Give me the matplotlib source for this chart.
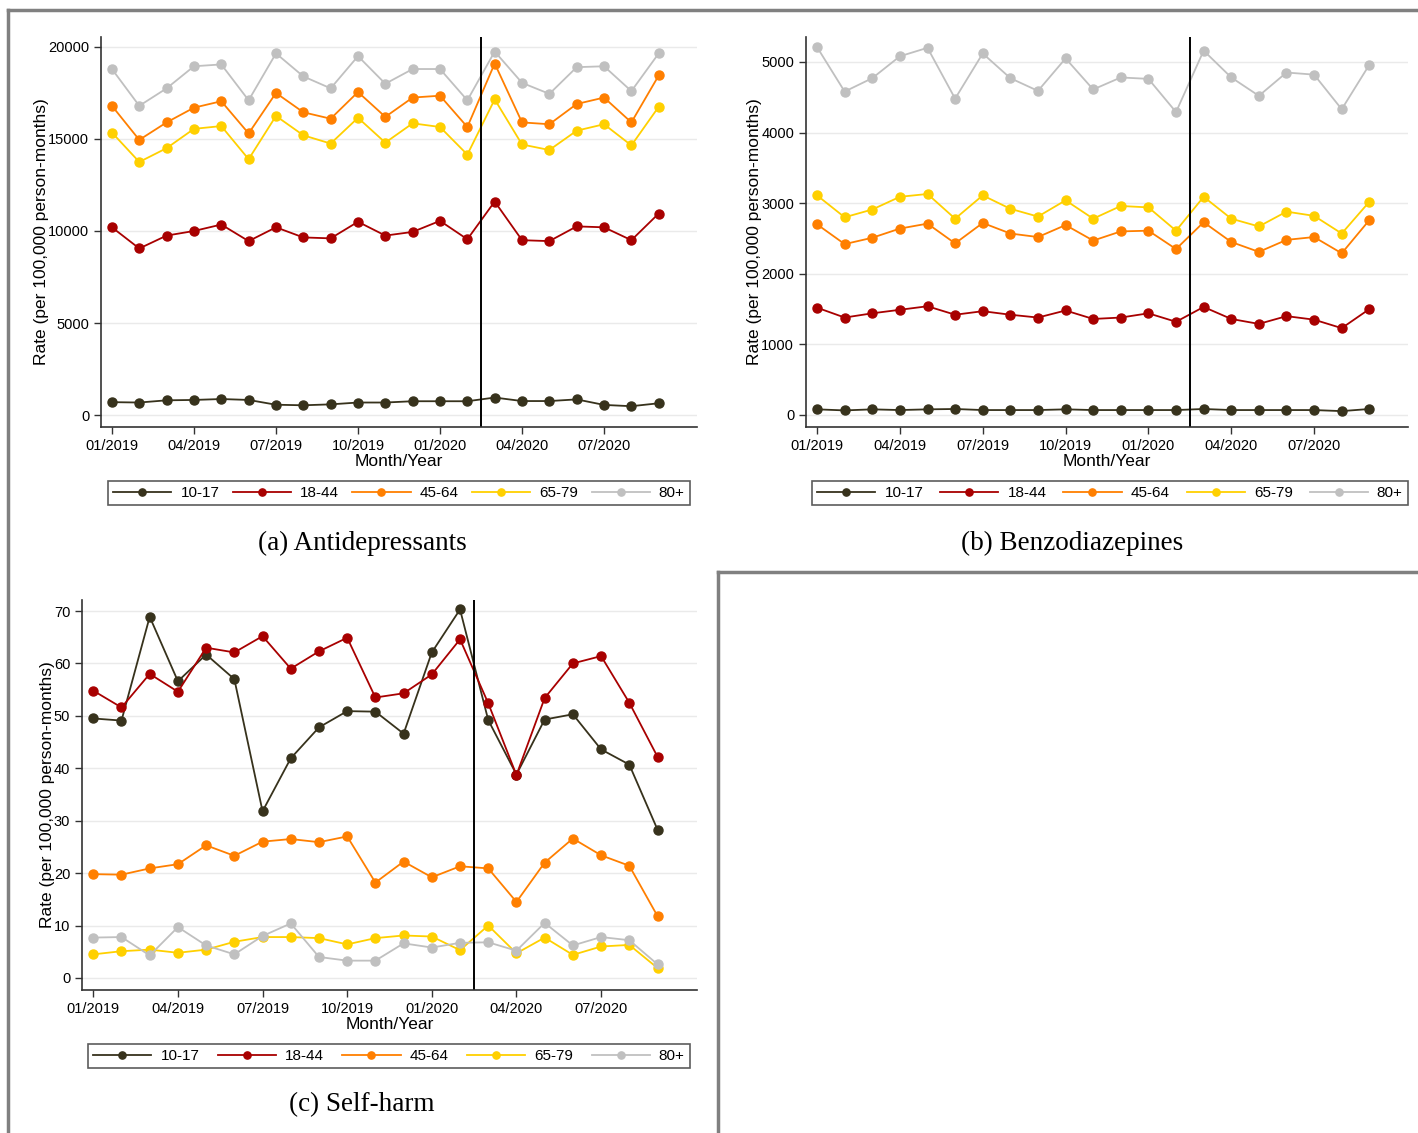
import matplotlib
matplotlib.use('Agg')
import matplotlib.pyplot as plt
import numpy as np

plt.rcParams['font.family'] = ['Liberation Sans', 'DejaVu Sans']

months = ['01/2019', '02/2019', '03/2019', '04/2019', '05/2019', '06/2019', '07/2019',
          '08/2019', '09/2019', '10/2019', '11/2019', '12/2019', '01/2020', '02/2020',
          '03/2020', '04/2020', '05/2020', '06/2020', '07/2020', '08/2020', '09/2020']
groups = ['10-17', '18-44', '45-64', '65-79', '80+']
colors = ['#37321c', '#a80000', '#ff7f00', '#ffd000', '#c0c0c0']

# Antidepressants
ad_1017 = [700, 680, 800, 820, 870, 820, 560, 530, 580, 680, 680, 750, 750, 750, 950, 760, 760, 850, 550, 480, 640]
ad_1844 = [10200, 9050, 9750, 10000, 10350, 9450, 10200, 9650, 9600, 10500, 9750, 9950, 10550, 9550, 11600, 9500, 9450, 10250, 10200, 9500, 10950]
ad_4564 = [16800, 14950, 15900, 16700, 17050, 15300, 17500, 16450, 16100, 17550, 16200, 17250, 17350, 15650, 19100, 15900, 15800, 16900, 17250, 15900, 18450]
ad_6579 = [15350, 13750, 14500, 15550, 15700, 13900, 16250, 15200, 14750, 16150, 14800, 15850, 15650, 14150, 17150, 14700, 14400, 15450, 15800, 14650, 16750]
ad_80 = [18800, 16800, 17750, 18950, 19050, 17100, 19650, 18400, 17750, 19500, 18000, 18800, 18800, 17100, 19750, 18050, 17450, 18900, 18950, 17600, 19650]

# Benzodiazepines
bz_1017 = [80, 65, 80, 70, 80, 85, 70, 70, 70, 80, 70, 70, 70, 70, 85, 70, 70, 70, 70, 55, 85]
bz_1844 = [1520, 1380, 1440, 1490, 1540, 1420, 1470, 1420, 1380, 1480, 1360, 1380, 1440, 1320, 1530, 1360, 1290, 1400, 1350, 1230, 1500]
bz_4564 = [2700, 2420, 2510, 2640, 2710, 2430, 2720, 2570, 2520, 2690, 2470, 2600, 2610, 2350, 2730, 2450, 2310, 2480, 2520, 2290, 2760]
bz_6579 = [3110, 2800, 2910, 3090, 3130, 2780, 3110, 2920, 2810, 3040, 2780, 2960, 2940, 2610, 3090, 2780, 2670, 2880, 2820, 2570, 3020]
bz_80 = [5210, 4580, 4770, 5080, 5200, 4480, 5120, 4770, 4590, 5050, 4610, 4780, 4760, 4290, 5160, 4780, 4520, 4850, 4820, 4330, 4960]

# Self-harm
sh_1017 = [49.5, 49.1, 68.9, 56.6, 61.7, 57.0, 31.8, 41.9, 47.8, 50.9, 50.8, 46.6, 62.1, 70.3, 49.2, 38.8, 49.3, 50.3, 43.6, 40.7, 28.3]
sh_1844 = [54.8, 51.6, 58.0, 54.6, 63.0, 62.1, 65.2, 59.0, 62.3, 64.9, 53.5, 54.3, 57.9, 64.6, 52.4, 38.7, 53.4, 60.0, 61.4, 52.5, 42.2]
sh_4564 = [19.8, 19.7, 20.9, 21.7, 25.3, 23.3, 26.0, 26.5, 25.9, 27.0, 18.2, 22.2, 19.2, 21.3, 20.9, 14.5, 22.0, 26.6, 23.4, 21.4, 11.8]
sh_6579 = [4.5, 5.1, 5.4, 4.8, 5.4, 6.9, 7.8, 7.8, 7.6, 6.4, 7.6, 8.1, 7.9, 5.3, 10.0, 4.7, 7.7, 4.4, 6.0, 6.3, 1.9]
sh_80 = [7.7, 7.8, 4.3, 9.7, 6.2, 4.5, 8.0, 10.4, 4.0, 3.3, 3.3, 6.6, 5.8, 6.7, 6.8, 5.2, 10.5, 6.2, 7.8, 7.2, 2.6]

tick_months = ['01/2019', '04/2019', '07/2019', '10/2019', '01/2020', '04/2020', '07/2020']
cut_month = 13.5  # between 02/2020 and 03/2020

W, H = 1418, 1133
fig = plt.figure(figsize=(W / 100, H / 100), dpi=100)


def px(x0, y0, x1, y1):
    return [x0 / W, 1 - y1 / H, (x1 - x0) / W, (y1 - y0) / H]


def panel(rect, series, ylim, yticks, leg_rect, caption, cap_xy):
    ax = fig.add_axes(rect)
    x = np.arange(len(months))
    for s, c, g in zip(series, colors, groups):
        ax.plot(x, s, color=c, lw=1.3, marker='o', ms=6.5, label=g)
    ax.axvline(cut_month, color='black', lw=1.4)
    ax.set_xlim(-0.4, 21.4)
    ax.set_ylim(*ylim)
    ax.set_yticks(yticks)
    ax.set_xticks([months.index(m) for m in tick_months])
    ax.set_xticklabels(tick_months)
    ax.grid(axis='y', color='#eaeaea', lw=1)
    ax.set_axisbelow(True)
    for sp in ['top', 'right']:
        ax.spines[sp].set_visible(False)
    for sp in ['left', 'bottom']:
        ax.spines[sp].set_color('#333333')
        ax.spines[sp].set_linewidth(1.2)
    ax.tick_params(direction='out', length=5, width=1, colors='#333333', labelcolor='black', labelsize=10.5)
    ax.set_xlabel('Month/Year', fontsize=12.5, labelpad=1)
    ax.set_ylabel('Rate (per 100,000 person-months)', fontsize=12.5, labelpad=-0.5)
    leg = ax.legend(ncol=5, mode='expand', loc='center', bbox_to_anchor=px(*leg_rect),
                    bbox_transform=fig.transFigure, frameon=True, fancybox=False,
                    edgecolor='#333333', fontsize=11, handlelength=3.8, markerscale=0.8,
                    borderpad=0.35, handletextpad=0.6, borderaxespad=0)
    leg.get_frame().set_linewidth(1.2)
    fig.text(cap_xy[0] / W, 1 - cap_xy[1] / H, caption, ha='center', va='center',
             family='Liberation Serif', fontsize=19.5)
    return ax


panel(px(101, 37, 697, 427), [ad_1017, ad_1844, ad_4564, ad_6579, ad_80],
      (-650, 20540), [0, 5000, 10000, 15000, 20000], (108, 480, 690, 506),
      '(a) Antidepressants', (362, 543))
panel(px(806, 37, 1408, 427), [bz_1017, bz_1844, bz_4564, bz_6579, bz_80],
      (-170, 5353), [0, 1000, 2000, 3000, 4000, 5000], (812, 480, 1408, 506),
      '(b) Benzodiazepines', (1072, 543))
panel(px(82, 600, 697, 990), [sh_1017, sh_1844, sh_4564, sh_6579, sh_80],
      (-2.3, 72.1), [0, 10, 20, 30, 40, 50, 60, 70], (88, 1043, 690, 1069),
      '(c) Self-harm', (362, 1105))

# frame lines around the sub-figures
border = dict(color='#808080', lw=2.5, transform=fig.transFigure)
fig.add_artist(plt.Line2D([8 / W, 1], [1 - 10 / H, 1 - 10 / H], **border))
fig.add_artist(plt.Line2D([8 / W, 8 / W], [1 - 10 / H, 0], **border))
fig.add_artist(plt.Line2D([718 / W, 718 / W], [1 - 572 / H, 0], **border))
fig.add_artist(plt.Line2D([718 / W, 1], [1 - 572 / H, 1 - 572 / H], **border))

fig.savefig('out.png', dpi=100)
